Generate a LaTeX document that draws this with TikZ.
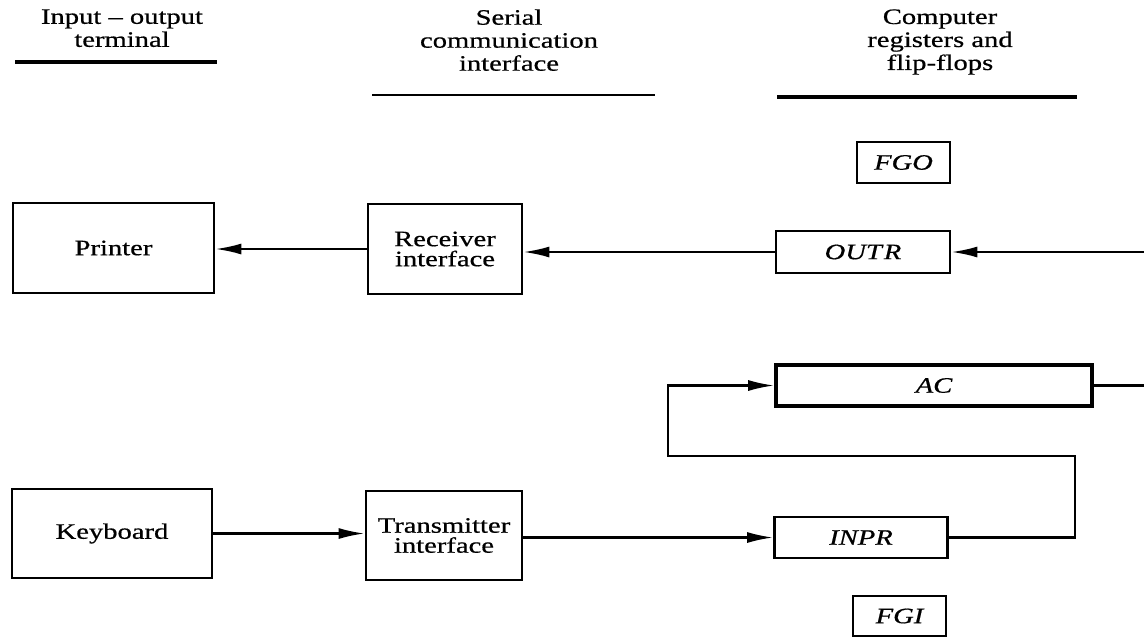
\documentclass[tikz,border=0pt]{standalone}
\usepackage{fontspec}
\setmainfont[FakeStretch=1.3, FakeBold=0.6]{Liberation Serif}
\usetikzlibrary{arrows.meta}
\begin{document}
\begin{tikzpicture}[x=0.5pt, y=-0.5pt,
  blk/.style={draw, line width=1.4pt, inner sep=0pt, align=center,
    font=\fontsize{11}{10}\selectfont},
  reg/.style={blk, font=\fontsize{11}{10}\selectfont\itshape},
  head/.style={anchor=north, inner sep=0pt, align=center,
    font=\fontsize{11}{11.5}\selectfont},
  conn/.style={line width=1.1pt},
  arr/.style={conn, -{Latex[length=13pt, width=5.5pt]}}]
  \useasboundingbox (0,0) rectangle (1144,638);

  % column headings
  \node[head] (hterm) at (122,9) {Input -- output\\terminal};
  \node[head] (hser)  at (509,9) {Serial\\communication\\interface};
  \node[head] (hcomp) at (940,9) {Computer\\registers and\\flip-flops};
  \draw[line width=1.6pt] (15,62) -- (217,62);
  \draw[line width=1.1pt] (372,95) -- (655,95);
  \draw[line width=2.2pt] (777,97) -- (1077,97);

  % terminal and interface blocks
  \node[blk, minimum width=100.5pt, minimum height=45pt] (printer) at (113.5,248) {Printer};
  \node[blk, minimum width=77pt, minimum height=45pt] (receiver) at (445,249) {Receiver\\interface};
  \node[blk, minimum width=100pt, minimum height=44.5pt] (keyboard) at (112,533.5) {Keyboard};
  \node[blk, minimum width=78pt, minimum height=44.5pt] (transmitter) at (444,535.5) {Transmitter\\interface};

  % computer registers and flip-flops
  \node[reg, minimum width=46.5pt, minimum height=20.5pt] (fgo) at (903.5,162.5) {FGO};
  \node[reg, minimum width=87pt, minimum height=21pt] (outr) at (863,252) {OUT\kern1pt R};
  \node[reg, line width=1.8pt, minimum width=158pt, minimum height=20.5pt] (ac) at (934,385.5) {AC};
  \node[reg, minimum width=86.5pt, minimum height=20.5pt] (inpr) at (861,537.5) {INPR};
  \node[reg, minimum width=46.5pt, minimum height=20pt] (fgi) at (899.5,616) {FGI};

  % free ends and bends
  \coordinate (busin) at (1144,252);
  \coordinate (busout) at (1144,385.5);
  \coordinate (loopR) at (1075,456);
  \coordinate (loopL) at (668,456);

  % output path
  \draw[arr] (busin) -- (outr.east);
  \draw[arr] (outr.west) -- (outr.west -| receiver.east);
  \draw[arr] (receiver.west) -- (receiver.west -| printer.east);

  % input path
  \draw[arr] (keyboard.east) -- (keyboard.east -| transmitter.west);
  \draw[arr] (inpr.west -| transmitter.east) -- (inpr.west);
  \draw[arr] (inpr.east) -| (loopR) -- (loopL) |- (ac.west);
  \draw[conn] (ac.east) -- (busout);
\end{tikzpicture}
\end{document}
